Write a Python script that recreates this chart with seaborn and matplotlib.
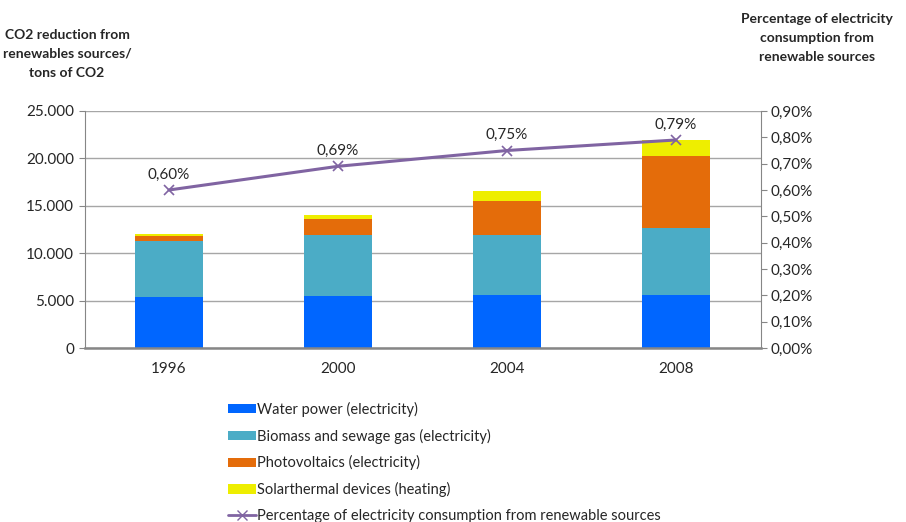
import matplotlib
matplotlib.use("Agg")
import matplotlib.pyplot as plt
import numpy as np
import seaborn as sns
from matplotlib.lines import Line2D
from matplotlib.patches import Patch
from matplotlib.ticker import FuncFormatter, MultipleLocator

# data
years = ["1996", "2000", "2004", "2008"]
water = [5400, 5500, 5600, 5600]
biomass = [5900, 6450, 6350, 7030]
photovoltaics = [550, 1700, 3600, 7650]
solarthermal = [150, 420, 990, 1650]
share_pct = [0.60, 0.69, 0.75, 0.79]

series_names = [
    "Water power (electricity)",
    "Biomass and sewage gas (electricity)",
    "Photovoltaics (electricity)",
    "Solarthermal devices (heating)",
]
line_name = "Percentage of electricity consumption from renewable sources"
colors = ["#0066FF", "#4BACC6", "#E46C0A", "#EEEE00"]
line_color = "#8064A2"

sns.set_style("white")
plt.rcParams["font.family"] = ["Lato", "DejaVu Sans"]

fig = plt.figure(figsize=(9.06, 5.22), dpi=100)
ax = fig.add_axes([84.5 / 906, 1 - 348 / 522, 676 / 906, 237 / 522])

layers = [water, biomass, photovoltaics, solarthermal]
cum = np.cumsum(np.array(layers), axis=0)
# draw from the top layer down so each lower layer covers the one above
for i in range(len(layers) - 1, -1, -1):
    sns.barplot(x=years, y=cum[i], color=colors[i], width=0.4,
                saturation=1, edgecolor="none", ax=ax, zorder=2)

ax.set_xlim(-0.5, 3.5)
ax.set_ylim(0, 25000)
ax.yaxis.set_major_locator(MultipleLocator(5000))
ax.yaxis.set_major_formatter(FuncFormatter(lambda v, p: f"{int(v):,}".replace(",", ".")))
ax.grid(axis="y", color="#a6a6a6", linewidth=1, zorder=0)
ax.set_axisbelow(True)
ax.set_xlabel("")
ax.set_ylabel("")
ax.set_xticks(np.arange(4))
ax.set_xticklabels(years, fontsize=11)
ax.set_xticks(np.arange(-0.5, 4, 1), minor=True)
ax.tick_params(axis="x", which="major", length=0, pad=10)
ax.tick_params(axis="x", which="minor", length=4, color="#868686", direction="out")
ax.tick_params(axis="y", labelsize=11, length=4, color="#868686", direction="out", left=True)
for s in ["top", "right"]:
    ax.spines[s].set_visible(False)
ax.spines["left"].set_color("#868686")
ax.spines["bottom"].set_color("#868686")
ax.spines["bottom"].set_linewidth(1.8)

ax2 = ax.twinx()
sns.lineplot(x=np.arange(4), y=share_pct, color=line_color, linewidth=2.2,
             marker="x", markersize=7, markeredgecolor=line_color,
             markeredgewidth=1.2, ax=ax2, zorder=5)
ax2.set_ylim(0, 0.9)
ax2.yaxis.set_major_locator(MultipleLocator(0.1))
ax2.yaxis.set_major_formatter(FuncFormatter(lambda v, p: f"{v:.2f}%".replace(".", ",")))
ax2.tick_params(axis="y", labelsize=11, length=4, color="#868686", direction="out", right=True)
ax2.set_ylabel("")
for s in ["top", "left", "bottom"]:
    ax2.spines[s].set_visible(False)
ax2.spines["right"].set_color("#868686")
for xi, v in enumerate(share_pct):
    ax2.annotate(f"{v:.2f}%".replace(".", ","), (xi, v), xytext=(0, 6),
                 textcoords="offset points", ha="center", va="bottom", fontsize=11)

fig.text(67 / 906, 1 - 54 / 522, "CO2 reduction from\nrenewables sources/\ntons of CO2",
         ha="center", va="center", fontsize=10, fontweight="bold", linespacing=1.7)
fig.text(817 / 906, 1 - 38 / 522, "Percentage of electricity\nconsumption from\nrenewable sources",
         ha="center", va="center", fontsize=10, fontweight="bold", linespacing=1.7)

handles = [Patch(facecolor=c, edgecolor="none") for c in colors]
handles.append(Line2D([0], [0], color=line_color, linewidth=2, marker="x",
                      markersize=7, markeredgecolor=line_color))
fig.legend(handles, series_names + [line_name], loc="upper left",
           bbox_to_anchor=(222 / 906, 1 - 396 / 522), frameon=False, fontsize=10.5,
           handlelength=1.9, handleheight=0.6, handletextpad=0.1, labelspacing=0.8,
           borderaxespad=0)

fig.savefig("out.png", dpi=100)
